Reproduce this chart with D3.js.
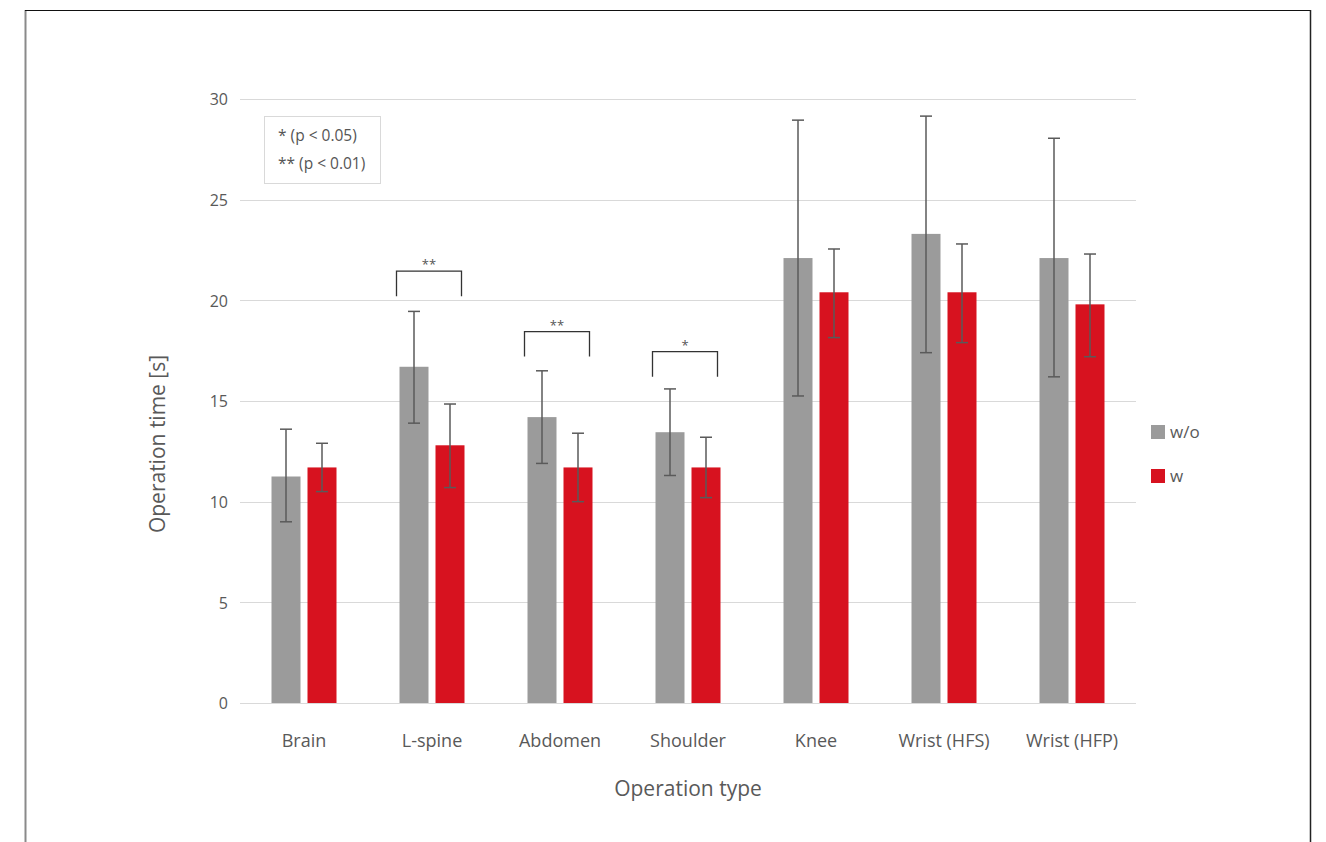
<!DOCTYPE html>
<html><head><meta charset="utf-8">
<script src="https://cdn.jsdelivr.net/npm/d3@7"></script>
<style>
html,body{margin:0;padding:0;background:#fff;}
svg{display:block;}
svg text{font-family:"Open Sans","Noto Sans",sans-serif;}
</style></head>
<body><svg id="chart" width="1326" height="842"></svg>
<script>
const categories = ["Brain","L-spine","Abdomen","Shoulder","Knee","Wrist (HFS)","Wrist (HFP)"];
const seriesNames = ["w/o","w"];
const meanWithout = [11.25,16.7,14.2,13.45,22.1,23.3,22.1];
const errHighWithout = [13.6,19.45,16.5,15.6,28.95,29.15,28.05];
const errLowWithout = [9.0,13.9,11.9,11.3,15.25,17.4,16.2];
const meanWith = [11.7,12.8,11.7,11.7,20.4,20.4,19.8];
const errHighWith = [12.9,14.85,13.4,13.2,22.55,22.8,22.3];
const errLowWith = [10.5,10.7,10.0,10.2,18.15,17.9,17.2];
const yTicks = [0,5,10,15,20,25,30];
const sigCategories = ["L-spine","Abdomen","Shoulder"];
const sigLabels = ["**","**","*"];
const sigLevels = [21.45,18.45,17.45];
const noteLines = ["* (p < 0.05)","** (p < 0.01)"];

const FONT = '"Open Sans","Noto Sans",sans-serif';
const colors = {"w/o":"#9b9b9b","w":"#d7121f"};
const svg = d3.select("#chart");

// frame
svg.append("line").attr("x1",25.5).attr("x2",25.5).attr("y1",10).attr("y2",842).attr("stroke","#8a8a8a").attr("stroke-width",2);
svg.append("line").attr("x1",25).attr("x2",1311).attr("y1",10.5).attr("y2",10.5).attr("stroke","#111").attr("stroke-width",1.2);
svg.append("line").attr("x1",1310.5).attr("x2",1310.5).attr("y1",10).attr("y2",842).attr("stroke","#222").attr("stroke-width",1.5);

const x = d3.scaleBand().domain(categories).range([240,1136]).paddingInner(0).paddingOuter(0);
const y = d3.scaleLinear().domain([0,30]).range([703,99]);

// gridlines
svg.append("g").selectAll("line").data(yTicks).join("line")
  .attr("x1",240).attr("x2",1136)
  .attr("y1",d=>Math.round(y(d))+0.5).attr("y2",d=>Math.round(y(d))+0.5)
  .attr("stroke","#d9d9d9").attr("stroke-width",1);

// y axis labels
const yAxis = d3.axisLeft(y).tickValues(yTicks).tickSize(0).tickPadding(0);
const yg = svg.append("g").attr("transform","translate(228,0)").call(yAxis)
  .attr("font-family",FONT);
yg.select(".domain").remove();
yg.selectAll("text").attr("fill","#595959").attr("font-size",16).attr("dy","0.36em");

// x axis labels
const xAxis = d3.axisBottom(x).tickSize(0).tickPadding(0);
const xg = svg.append("g").attr("transform","translate(0,747)").call(xAxis)
  .attr("font-family",FONT);
xg.select(".domain").remove();
xg.selectAll("text").attr("fill","#595959").attr("font-size",18).attr("dy","0");

// bars
const barW = 29, gap = 7;
const offsets = {"w/o": -barW - gap/2 + barW/2, "w": gap/2 + barW/2};
const seriesData = [
  {name:"w/o", mean:meanWithout, hi:errHighWithout, lo:errLowWithout},
  {name:"w", mean:meanWith, hi:errHighWith, lo:errLowWith}
];
const bw = x.bandwidth();
seriesData.forEach(s=>{
  const rows = categories.map((c,i)=>({c, v:s.mean[i], hi:s.hi[i], lo:s.lo[i]}));
  const g = svg.append("g");
  g.selectAll("rect").data(rows).join("rect")
    .attr("x",d=>x(d.c)+bw/2+offsets[s.name]-barW/2)
    .attr("width",barW)
    .attr("y",d=>y(d.v)).attr("height",d=>y(0)-y(d.v))
    .attr("fill",colors[s.name]);
  const eg = svg.append("g").attr("stroke","#5a5a5a").attr("stroke-width",1.5);
  rows.forEach(d=>{
    const cx = x(d.c)+bw/2+offsets[s.name];
    eg.append("line").attr("x1",cx).attr("x2",cx).attr("y1",y(d.hi)).attr("y2",y(d.lo));
    eg.append("line").attr("x1",cx-6).attr("x2",cx+6).attr("y1",y(d.hi)).attr("y2",y(d.hi));
    eg.append("line").attr("x1",cx-6).attr("x2",cx+6).attr("y1",y(d.lo)).attr("y2",y(d.lo));
  });
});

// significance brackets
sigCategories.forEach((c,i)=>{
  const cx = x(c)+bw/2;
  const x1 = cx-35.5, x2 = cx+29.5;
  const top = y(sigLevels[i]);
  const bottom = top+25;
  svg.append("path").attr("d",`M${x1},${bottom}V${top}H${x2}V${bottom}`)
    .attr("fill","none").attr("stroke","#333").attr("stroke-width",1.3);
  svg.append("text").attr("x",(x1+x2)/2).attr("y",top-2).attr("text-anchor","middle")
    .attr("fill","#555").attr("font-size",13).text(sigLabels[i]);
});

// note box
svg.append("rect").attr("x",264.5).attr("y",116.5).attr("width",116).attr("height",67)
  .attr("fill","#fff").attr("stroke","#d9d9d9").attr("stroke-width",1);
noteLines.forEach((t,i)=>{
  svg.append("text").attr("x",278).attr("y",141+i*28).attr("fill","#555")
    .attr("font-size",15.5).text(t);
});

// right legend
seriesNames.forEach((n,i)=>{
  const ly = 425 + i*44;
  svg.append("rect").attr("x",1151).attr("y",ly).attr("width",14).attr("height",14).attr("fill",colors[n]);
  svg.append("text").attr("x",1170).attr("y",ly+7).attr("dy","0.35em").attr("fill","#595959")
    .attr("font-size",17).text(n);
});

// axis titles
svg.append("text").attr("x",688).attr("y",796).attr("text-anchor","middle")
  .attr("fill","#595959").attr("font-size",21).text("Operation type");
svg.append("text").attr("transform","translate(165,444) rotate(-90)").attr("text-anchor","middle")
  .attr("fill","#595959").attr("font-size",21).text("Operation time [s]");
</script></body></html>
